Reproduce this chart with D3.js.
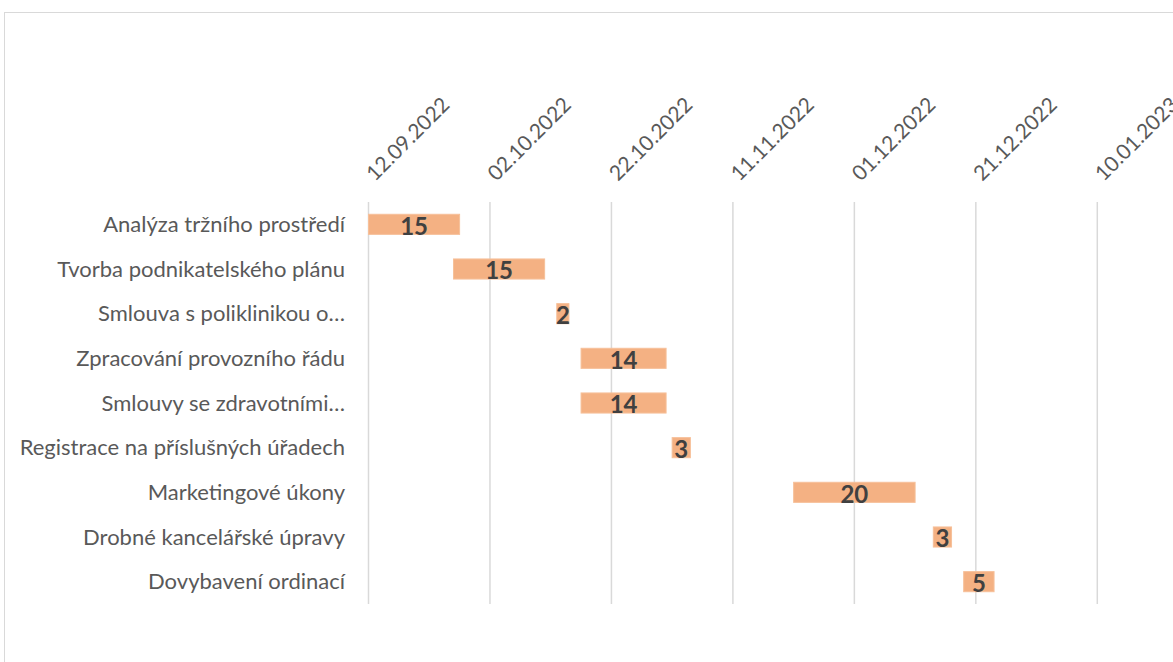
<!DOCTYPE html>
<html>
<head>
<meta charset="utf-8">
<script src="https://cdn.jsdelivr.net/npm/d3@7"></script>
<style>
  body { margin: 0; background: #fff; }
  svg { display: block; }
</style>
</head>
<body>
<svg id="chart" width="1173" height="662"></svg>
<script>
var tasks = [
  "Analýza tržního prostředí",
  "Tvorba podnikatelského plánu",
  "Smlouva s poliklinikou o…",
  "Zpracování provozního řádu",
  "Smlouvy se zdravotními…",
  "Registrace na příslušných úřadech",
  "Marketingové úkony",
  "Drobné kancelářské úpravy",
  "Dovybavení ordinací"
]
var startDates = ["2022-09-12", "2022-09-26", "2022-10-13", "2022-10-17", "2022-10-17",
                  "2022-11-01", "2022-11-21", "2022-12-14", "2022-12-19"]
var durations = [15, 15, 2, 14, 14, 3, 20, 3, 5]
var tickDates = ["2022-09-12", "2022-10-02", "2022-10-22", "2022-11-11",
                 "2022-12-01", "2022-12-21", "2023-01-10"]

var parse = d3.utcParse("%Y-%m-%d")
var fmt = d3.utcFormat("%d.%m.%Y")
var DAY = 864e5

var data = tasks.map(function(t, i) {
  var s = parse(startDates[i])
  return { task: t, start: s, end: new Date(+s + durations[i] * DAY), dur: durations[i] }
})

var svg = d3.select("#chart")
var font = "Lato, 'Open Sans', sans-serif"

// chart area border (runs off the right and bottom edges)
svg.append("rect")
  .attr("x", 4.5).attr("y", 12.5)
  .attr("width", 1200).attr("height", 700)
  .attr("fill", "none").attr("stroke", "#d9d9d9").attr("stroke-width", 1)

var x = d3.scaleUtc()
  .domain([parse(tickDates[0]), parse(tickDates[tickDates.length - 1])])
  .range([368.5, 1097.3])

var y = d3.scaleBand()
  .domain(tasks)
  .range([202, 604])
  .paddingInner(0.55)
  .paddingOuter(0.275)

// vertical grid lines
svg.append("g")
  .selectAll("line")
  .data(tickDates.map(parse))
  .enter().append("line")
  .attr("x1", function(d) { return x(d) }).attr("x2", function(d) { return x(d) })
  .attr("y1", 202).attr("y2", 604)
  .attr("stroke", "#d9d9d9").attr("stroke-width", 1.5)

// top axis labels, rotated
var xAxis = d3.axisTop(x)
  .tickValues(tickDates.map(parse))
  .tickFormat(fmt)
  .tickSize(0)

svg.append("g")
  .attr("transform", "translate(0,182)")
  .call(xAxis)
  .call(function(g) { g.select(".domain").remove() })
  .selectAll("text")
  .attr("font-family", font)
  .attr("font-size", 21)
  .attr("fill", "#595959")
  .attr("text-anchor", "start")
  .attr("dy", 0)
  .attr("y", 0)
  .attr("transform", "translate(6,0) rotate(-45)")

// category labels
var yAxis = d3.axisLeft(y).tickSize(0).tickPadding(0)
svg.append("g")
  .attr("transform", "translate(345,0)")
  .call(yAxis)
  .call(function(g) { g.select(".domain").remove() })
  .selectAll("text")
  .attr("font-family", font)
  .attr("font-size", 22)
  .attr("fill", "#595959")
  .attr("dy", "0.35em")

// bars
svg.append("g")
  .selectAll("rect")
  .data(data)
  .enter().append("rect")
  .attr("x", function(d) { return x(d.start) })
  .attr("y", function(d) { return y(d.task) })
  .attr("width", function(d) { return x(d.end) - x(d.start) })
  .attr("height", y.bandwidth())
  .attr("fill", "#f4b183")
  .attr("stroke", "#f6c09a")
  .attr("stroke-width", 1)

// duration labels
svg.append("g")
  .selectAll("text")
  .data(data)
  .enter().append("text")
  .attr("x", function(d) { return (x(d.start) + x(d.end)) / 2 })
  .attr("y", function(d) { return y(d.task) + y.bandwidth() / 2 })
  .attr("dy", "0.43em")
  .attr("text-anchor", "middle")
  .attr("font-family", font)
  .attr("font-weight", "bold")
  .attr("font-size", 24)
  .attr("fill", "#404040")
  .text(function(d) { return d.dur })
</script>
</body>
</html>
